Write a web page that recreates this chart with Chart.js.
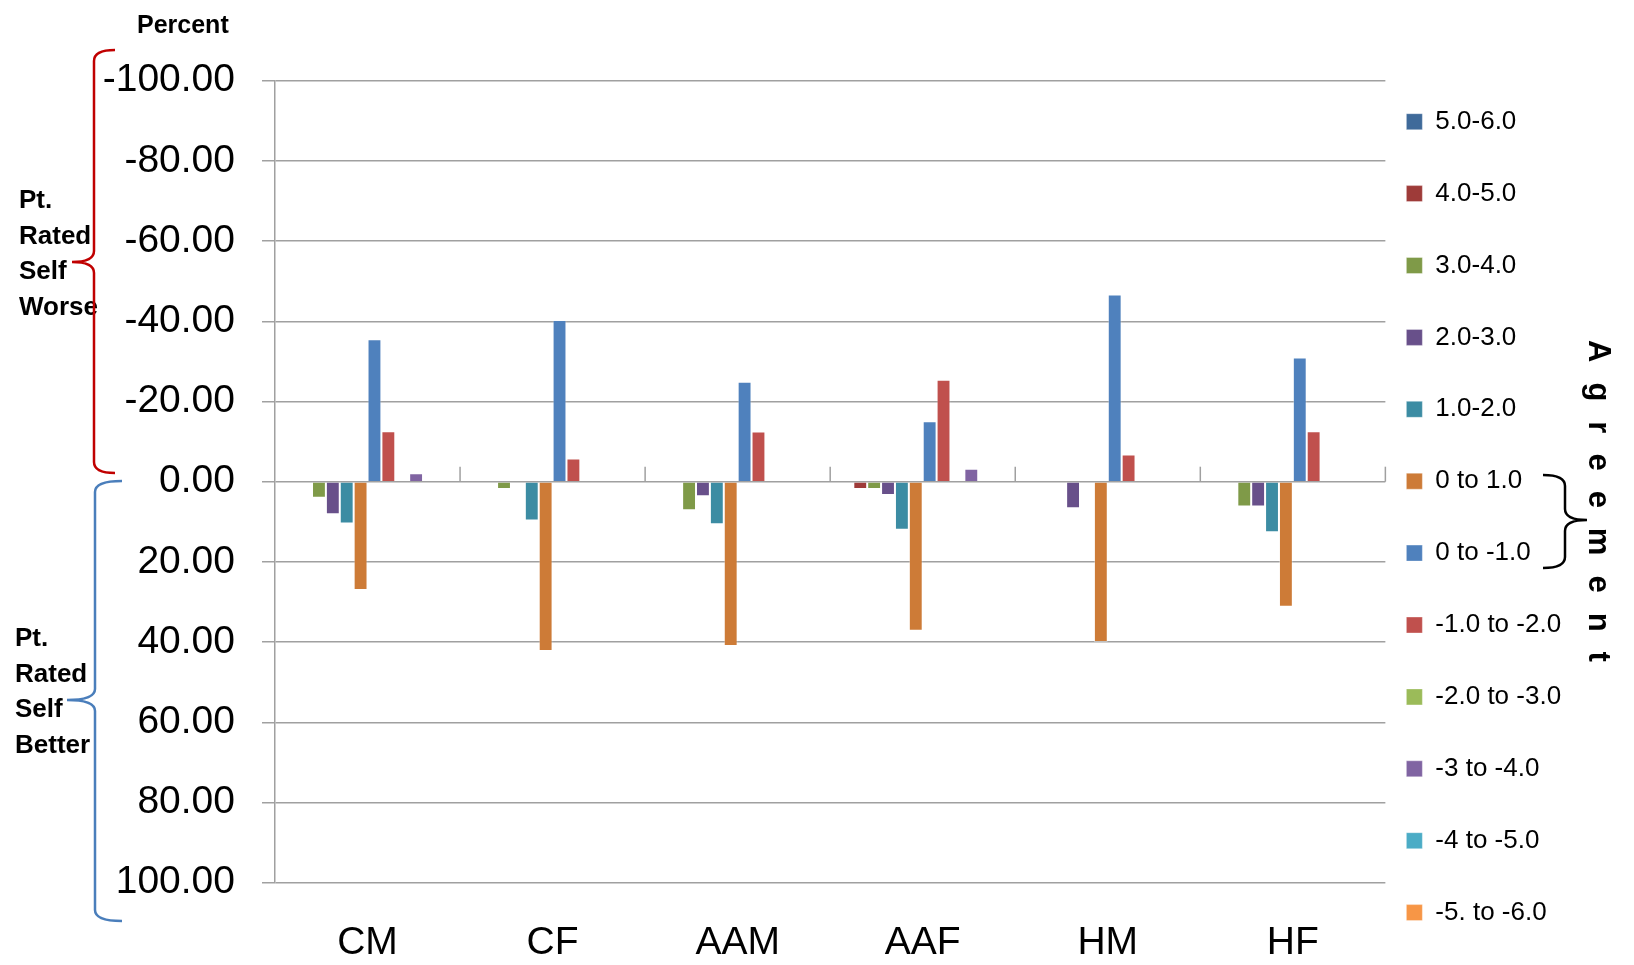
<!DOCTYPE html>
<html>
<head>
<meta charset="utf-8">
<title>Percent by group</title>
<script src="https://cdn.jsdelivr.net/npm/chart.js@4/dist/chart.umd.min.js"></script>
<style>
body { margin: 0; background: #fff; }
#wrap { width: 1634px; height: 965px; }
</style>
</head>
<body>
<div id="wrap"><canvas id="myChart" width="1634" height="965"></canvas></div>
<script>
// groups on the x axis
const groups = ["CM", "CF", "AAM", "AAF", "HM", "HF"]

// agreement bands (legend order)
const bands = ["5.0-6.0", "4.0-5.0", "3.0-4.0", "2.0-3.0", "1.0-2.0", "0 to 1.0",
  "0 to -1.0", "-1.0 to -2.0", "-2.0 to -3.0", "-3 to -4.0", "-4 to -5.0", "-5. to -6.0"]
const bandColors = ["#3F6A9A", "#9E3B39", "#7F9A48", "#68508A", "#3C8CA3", "#CD7B37",
  "#4F81BD", "#C0504D", "#9BBB59", "#8064A2", "#4BACC6", "#F79646"]

// percent per band, one value per group (negative = pt. rated self worse)
const p5to6   = [0, 0, 0, 0, 0, 0]
const p4to5   = [0, 0, 0, 1.8, 0, 0]
const p3to4   = [4.0, 1.8, 7.1, 1.8, 0, 6.2]
const p2to3   = [8.1, 0, 3.6, 3.3, 6.6, 6.2]
const p1to2   = [10.4, 9.7, 10.6, 12.0, 0, 12.6]
const p0to1   = [27.0, 42.2, 41.0, 37.2, 40.0, 31.2]
const p0toM1  = [-35.5, -40.3, -24.9, -15.1, -46.7, -31.0]
const pM1toM2 = [-12.6, -5.8, -12.5, -25.4, -6.8, -12.6]
const pM2toM3 = [0, 0, 0, 0, 0, 0]
const pM3toM4 = [-2.1, 0, 0, -3.2, 0, 0]
const pM4toM5 = [0, 0, 0, 0, 0, 0]
const pM5toM6 = [0, 0, 0, 0, 0, 0]
const bandValues = [p5to6, p4to5, p3to4, p2to3, p1to2, p0to1,
  p0toM1, pM1toM2, pM2toM3, pM3toM4, pM4toM5, pM5toM6]

const FONT = "'Liberation Sans', Arial, sans-serif"
const GRID = "#a0a0a0"

Chart.defaults.font.family = FONT
Chart.defaults.color = "#000"

// curly bracket; tip points toward tipX
function brace(ctx, hookX, spineX, tipX, top, mid, bottom, color){
    const r = 11
    ctx.save()
    ctx.strokeStyle = color
    ctx.lineWidth = 2.5
    ctx.beginPath()
    ctx.moveTo(hookX, top)
    ctx.quadraticCurveTo(spineX, top, spineX, top + r)
    ctx.lineTo(spineX, mid - r)
    ctx.quadraticCurveTo(spineX, mid, tipX, mid)
    ctx.quadraticCurveTo(spineX, mid, spineX, mid + r)
    ctx.lineTo(spineX, bottom - r)
    ctx.quadraticCurveTo(spineX, bottom, hookX, bottom)
    ctx.stroke()
    ctx.restore()
}

function lines(ctx, words, x, y0, step){
    words.forEach((w, i) => ctx.fillText(w, x, y0 + i * step))
}

const notes = {
    id: "notes",
    afterLayout(chart){
        // pull the legend in next to the plot and down to where the original starts
        const lg = chart.legend
        const pad = lg.options.labels.padding
        const dx = chart.chartArea.right + 21 - (lg.left + pad)
        const dy = 108.7 - (lg.top + pad)
        lg.left += dx
        lg.right += dx
        lg.top += dy
        lg.bottom += dy
    },
    afterDraw(chart){
        const ctx = chart.ctx
        const xs = chart.scales.x, ys = chart.scales.y
        const y0 = ys.getPixelForValue(0)

        // group separators on the zero line
        ctx.save()
        ctx.strokeStyle = GRID
        ctx.lineWidth = 1.5
        for (let i = 0; i < groups.length; i++){
            const bx = i < groups.length - 1 ? (xs.getPixelForValue(i) + xs.getPixelForValue(i + 1)) / 2 : chart.chartArea.right
            ctx.beginPath()
            ctx.moveTo(bx, y0 - 15)
            ctx.lineTo(bx, y0)
            ctx.stroke()
        }
        ctx.restore()

        ctx.save()
        ctx.fillStyle = "#000"
        ctx.textBaseline = "alphabetic"
        ctx.textAlign = "left"
        ctx.font = "bold 25px " + FONT
        ctx.fillText("Percent", 137, 33)
        ctx.font = "bold 26px " + FONT
        lines(ctx, ["Pt.", "Rated", "Self", "Worse"], 19, 208, 35.7)
        lines(ctx, ["Pt.", "Rated", "Self", "Better"], 15, 646, 35.6)

        // "Agreement", one letter at a time, turned a quarter clockwise
        ctx.font = "bold 31px " + FONT
        ctx.textAlign = "center"
        let yy = 340
        for (const ch of "Agreement"){
            const w = ctx.measureText(ch).width
            ctx.save()
            ctx.translate(1589, yy + w / 2)
            ctx.rotate(Math.PI / 2)
            ctx.fillText(ch, 0, 0)
            ctx.restore()
            yy += w + 20
        }
        ctx.restore()

        brace(ctx, 115, 94, 72, 50, 262, 473, "#C00000")
        brace(ctx, 122, 95, 67, 481, 700, 921, "#4A7EBB")
        brace(ctx, 1543, 1565, 1587, 475, 520, 568, "#000")
    }
}

const datasets = bands.map((name, i) => ({
    label: name,
    data: bandValues[i],
    backgroundColor: bandColors[i],
    borderColor: "rgba(255,255,255,0.35)",
    borderWidth: 1,
    categoryPercentage: 0.9,
    barPercentage: 1.0
}))

const ctx = document.getElementById("myChart").getContext("2d")
const myChart = new Chart(ctx, {
    type: "bar",
    data: { labels: groups, datasets: datasets },
    plugins: [notes],
    options: {
        responsive: false,
        animation: false,
        layout: { padding: { top: 0, bottom: 0, left: 0, right: 38 } },
        scales: {
            x: {
                grid: { display: false, drawTicks: false },
                border: { display: false },
                ticks: { font: { size: 39 }, color: "#000", padding: 37, maxRotation: 0 },
                afterFit(scale){ scale.height = 82.3 }
            },
            y: {
                reverse: true,
                min: -100,
                max: 100,
                ticks: { stepSize: 20, font: { size: 39 }, color: "#000", padding: 27,
                    callback: v => v.toFixed(2) },
                grid: { color: GRID, lineWidth: 1.5, tickLength: 13, tickColor: GRID },
                border: { display: true, color: GRID, width: 1.5 },
                afterFit(scale){ scale.width = 275 }
            }
        },
        plugins: {
            title: { display: true, text: "", padding: { top: 0, bottom: 66.3 }, font: { size: 12 } },
            tooltip: { enabled: false },
            legend: {
                position: "right",
                align: "start",
                labels: { boxWidth: 16, boxHeight: 16, padding: 45.9, color: "#000", font: { size: 26 } }
            }
        }
    }
})
</script>
</body>
</html>
